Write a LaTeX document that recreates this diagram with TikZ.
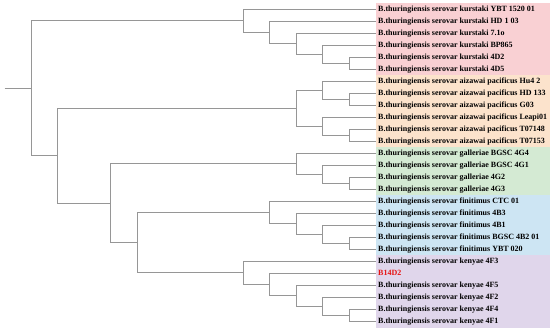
\documentclass[tikz,border=0pt]{standalone}
\usepackage{fontspec}
\setmainfont{Liberation Serif}
\definecolor{cPink}{RGB}{249,208,211}
\definecolor{cPeach}{RGB}{252,227,204}
\definecolor{cGreen}{RGB}{212,234,211}
\definecolor{cBlue}{RGB}{205,229,243}
\definecolor{cPurple}{RGB}{224,214,235}
\definecolor{cLine}{RGB}{150,150,150}
\definecolor{cRed}{RGB}{230,20,20}
\tikzset{
  branch/.style={draw=cLine, line width=0.9pt},
  lab/.style={anchor=west, inner sep=0pt, font=\fontsize{8}{9}\selectfont\bfseries, text height=5.4pt, text depth=1.6pt},
  band/.style={draw=none}
}
\begin{document}
\begin{tikzpicture}[x=1pt,y=1pt]
\useasboundingbox (0,0) rectangle (550,-331);
% coloured bands
\fill[cPink]   (376,-3)     rectangle (550,-75.3);
\fill[cPeach]  (376,-75.3)  rectangle (550,-147.3);
\fill[cGreen]  (376,-147.3) rectangle (550,-195.3);
\fill[cBlue]   (376,-195.3) rectangle (550,-255.3);
\fill[cPurple] (376,-255.3) rectangle (550,-327.6);
% leaves
\foreach \i in {0,...,26} {
  \coordinate (l\i) at (376,{-(9.3+12*\i)});
}
\node[lab] (t0)  at (378,-9.3)   {B.thuringiensis serovar kurstaki YBT 1520 01};
\node[lab] (t1)  at (378,-21.3)  {B.thuringiensis serovar kurstaki HD 1 03};
\node[lab] (t2)  at (378,-33.3)  {B.thuringiensis serovar kurstaki 7.1o};
\node[lab] (t3)  at (378,-45.3)  {B.thuringiensis serovar kurstaki BP865};
\node[lab] (t4)  at (378,-57.3)  {B.thuringiensis serovar kurstaki 4D2};
\node[lab] (t5)  at (378,-69.3)  {B.thuringiensis serovar kurstaki 4D5};
\node[lab] (t6)  at (378,-81.3)  {B.thuringiensis serovar aizawai pacificus Hu4 2};
\node[lab] (t7)  at (378,-93.3)  {B.thuringiensis serovar aizawai pacificus HD 133};
\node[lab] (t8)  at (378,-105.3) {B.thuringiensis serovar aizawai pacificus G03};
\node[lab] (t9)  at (378,-117.3) {B.thuringiensis serovar aizawai pacificus Leapi01};
\node[lab] (t10) at (378,-129.3) {B.thuringiensis serovar aizawai pacificus T07148};
\node[lab] (t11) at (378,-141.3) {B.thuringiensis serovar aizawai pacificus T07153};
\node[lab] (t12) at (378,-153.3) {B.thuringiensis serovar galleriae BGSC 4G4};
\node[lab] (t13) at (378,-165.3) {B.thuringiensis serovar galleriae BGSC 4G1};
\node[lab] (t14) at (378,-177.3) {B.thuringiensis serovar galleriae 4G2};
\node[lab] (t15) at (378,-189.3) {B.thuringiensis serovar galleriae 4G3};
\node[lab] (t16) at (378,-201.3) {B.thuringiensis serovar finitimus CTC 01};
\node[lab] (t17) at (378,-213.3) {B.thuringiensis serovar finitimus 4B3};
\node[lab] (t18) at (378,-225.3) {B.thuringiensis serovar finitimus 4B1};
\node[lab] (t19) at (378,-237.3) {B.thuringiensis serovar finitimus BGSC 4B2 01};
\node[lab] (t20) at (378,-249.3) {B.thuringiensis serovar finitimus YBT 020};
\node[lab] (t21) at (378,-261.3) {B.thuringiensis serovar kenyae 4F3};
\node[lab,text=cRed] (t22) at (378,-273.3) {B14D2};
\node[lab] (t23) at (378,-285.3) {B.thuringiensis serovar kenyae 4F5};
\node[lab] (t24) at (378,-297.3) {B.thuringiensis serovar kenyae 4F2};
\node[lab] (t25) at (378,-309.3) {B.thuringiensis serovar kenyae 4F4};
\node[lab] (t26) at (378,-321.3) {B.thuringiensis serovar kenyae 4F1};
% internal nodes (x levels: 31 + 26.5 L)
\coordinate (k4) at (349,-63.3);
\coordinate (k3) at (322.5,-54.3);
\coordinate (k2) at (296,-43.8);
\coordinate (k1) at (269.5,-32.55);
\coordinate (k0) at (243,-20.9);
\coordinate (a1) at (349,-99.3);
\coordinate (a0a) at (322.5,-90.3);
\coordinate (a2) at (349,-135.3);
\coordinate (a0b) at (322.5,-126.3);
\coordinate (a) at (296,-108.3);
\coordinate (g2) at (349,-183.3);
\coordinate (g1) at (322.5,-174.3);
\coordinate (g) at (296,-163.8);
\coordinate (f3) at (349,-243.3);
\coordinate (f2) at (322.5,-234.3);
\coordinate (f1) at (296,-223.8);
\coordinate (f) at (269.5,-212.55);
\coordinate (e4) at (349,-315.3);
\coordinate (e3) at (322.5,-306.3);
\coordinate (e2) at (296,-295.8);
\coordinate (e1) at (269.5,-284.55);
\coordinate (e) at (243,-272.9);
\coordinate (n4) at (137,-242.7);
\coordinate (n3) at (110.5,-203.25);
\coordinate (n1) at (57.5,-155.8);
\coordinate (root) at (31,-88.35);
\coordinate (stub) at (4.7,-88.35);
% branches
\draw[branch] (stub) -- (root);
\draw[branch] (root) |- (k0);
\draw[branch] (root) |- (n1);
\draw[branch] (k0) |- (l0);
\draw[branch] (k0) |- (k1);
\draw[branch] (k1) |- (l1);
\draw[branch] (k1) |- (k2);
\draw[branch] (k2) |- (l2);
\draw[branch] (k2) |- (k3);
\draw[branch] (k3) |- (l3);
\draw[branch] (k3) |- (k4);
\draw[branch] (k4) |- (l4);
\draw[branch] (k4) |- (l5);
\draw[branch] (n1) |- (a);
\draw[branch] (n1) |- (n3);
\draw[branch] (a) |- (a0a);
\draw[branch] (a) |- (a0b);
\draw[branch] (a0a) |- (l6);
\draw[branch] (a0a) |- (a1);
\draw[branch] (a1) |- (l7);
\draw[branch] (a1) |- (l8);
\draw[branch] (a0b) |- (l9);
\draw[branch] (a0b) |- (a2);
\draw[branch] (a2) |- (l10);
\draw[branch] (a2) |- (l11);
\draw[branch] (n3) |- (g);
\draw[branch] (n3) |- (n4);
\draw[branch] (g) |- (l12);
\draw[branch] (g) |- (g1);
\draw[branch] (g1) |- (l13);
\draw[branch] (g1) |- (g2);
\draw[branch] (g2) |- (l14);
\draw[branch] (g2) |- (l15);
\draw[branch] (n4) |- (f);
\draw[branch] (n4) |- (e);
\draw[branch] (f) |- (l16);
\draw[branch] (f) |- (f1);
\draw[branch] (f1) |- (l17);
\draw[branch] (f1) |- (f2);
\draw[branch] (f2) |- (l18);
\draw[branch] (f2) |- (f3);
\draw[branch] (f3) |- (l19);
\draw[branch] (f3) |- (l20);
\draw[branch] (e) |- (l21);
\draw[branch] (e) |- (e1);
\draw[branch] (e1) |- (l22);
\draw[branch] (e1) |- (e2);
\draw[branch] (e2) |- (l23);
\draw[branch] (e2) |- (e3);
\draw[branch] (e3) |- (l24);
\draw[branch] (e3) |- (e4);
\draw[branch] (e4) |- (l25);
\draw[branch] (e4) |- (l26);
\end{tikzpicture}
\end{document}
